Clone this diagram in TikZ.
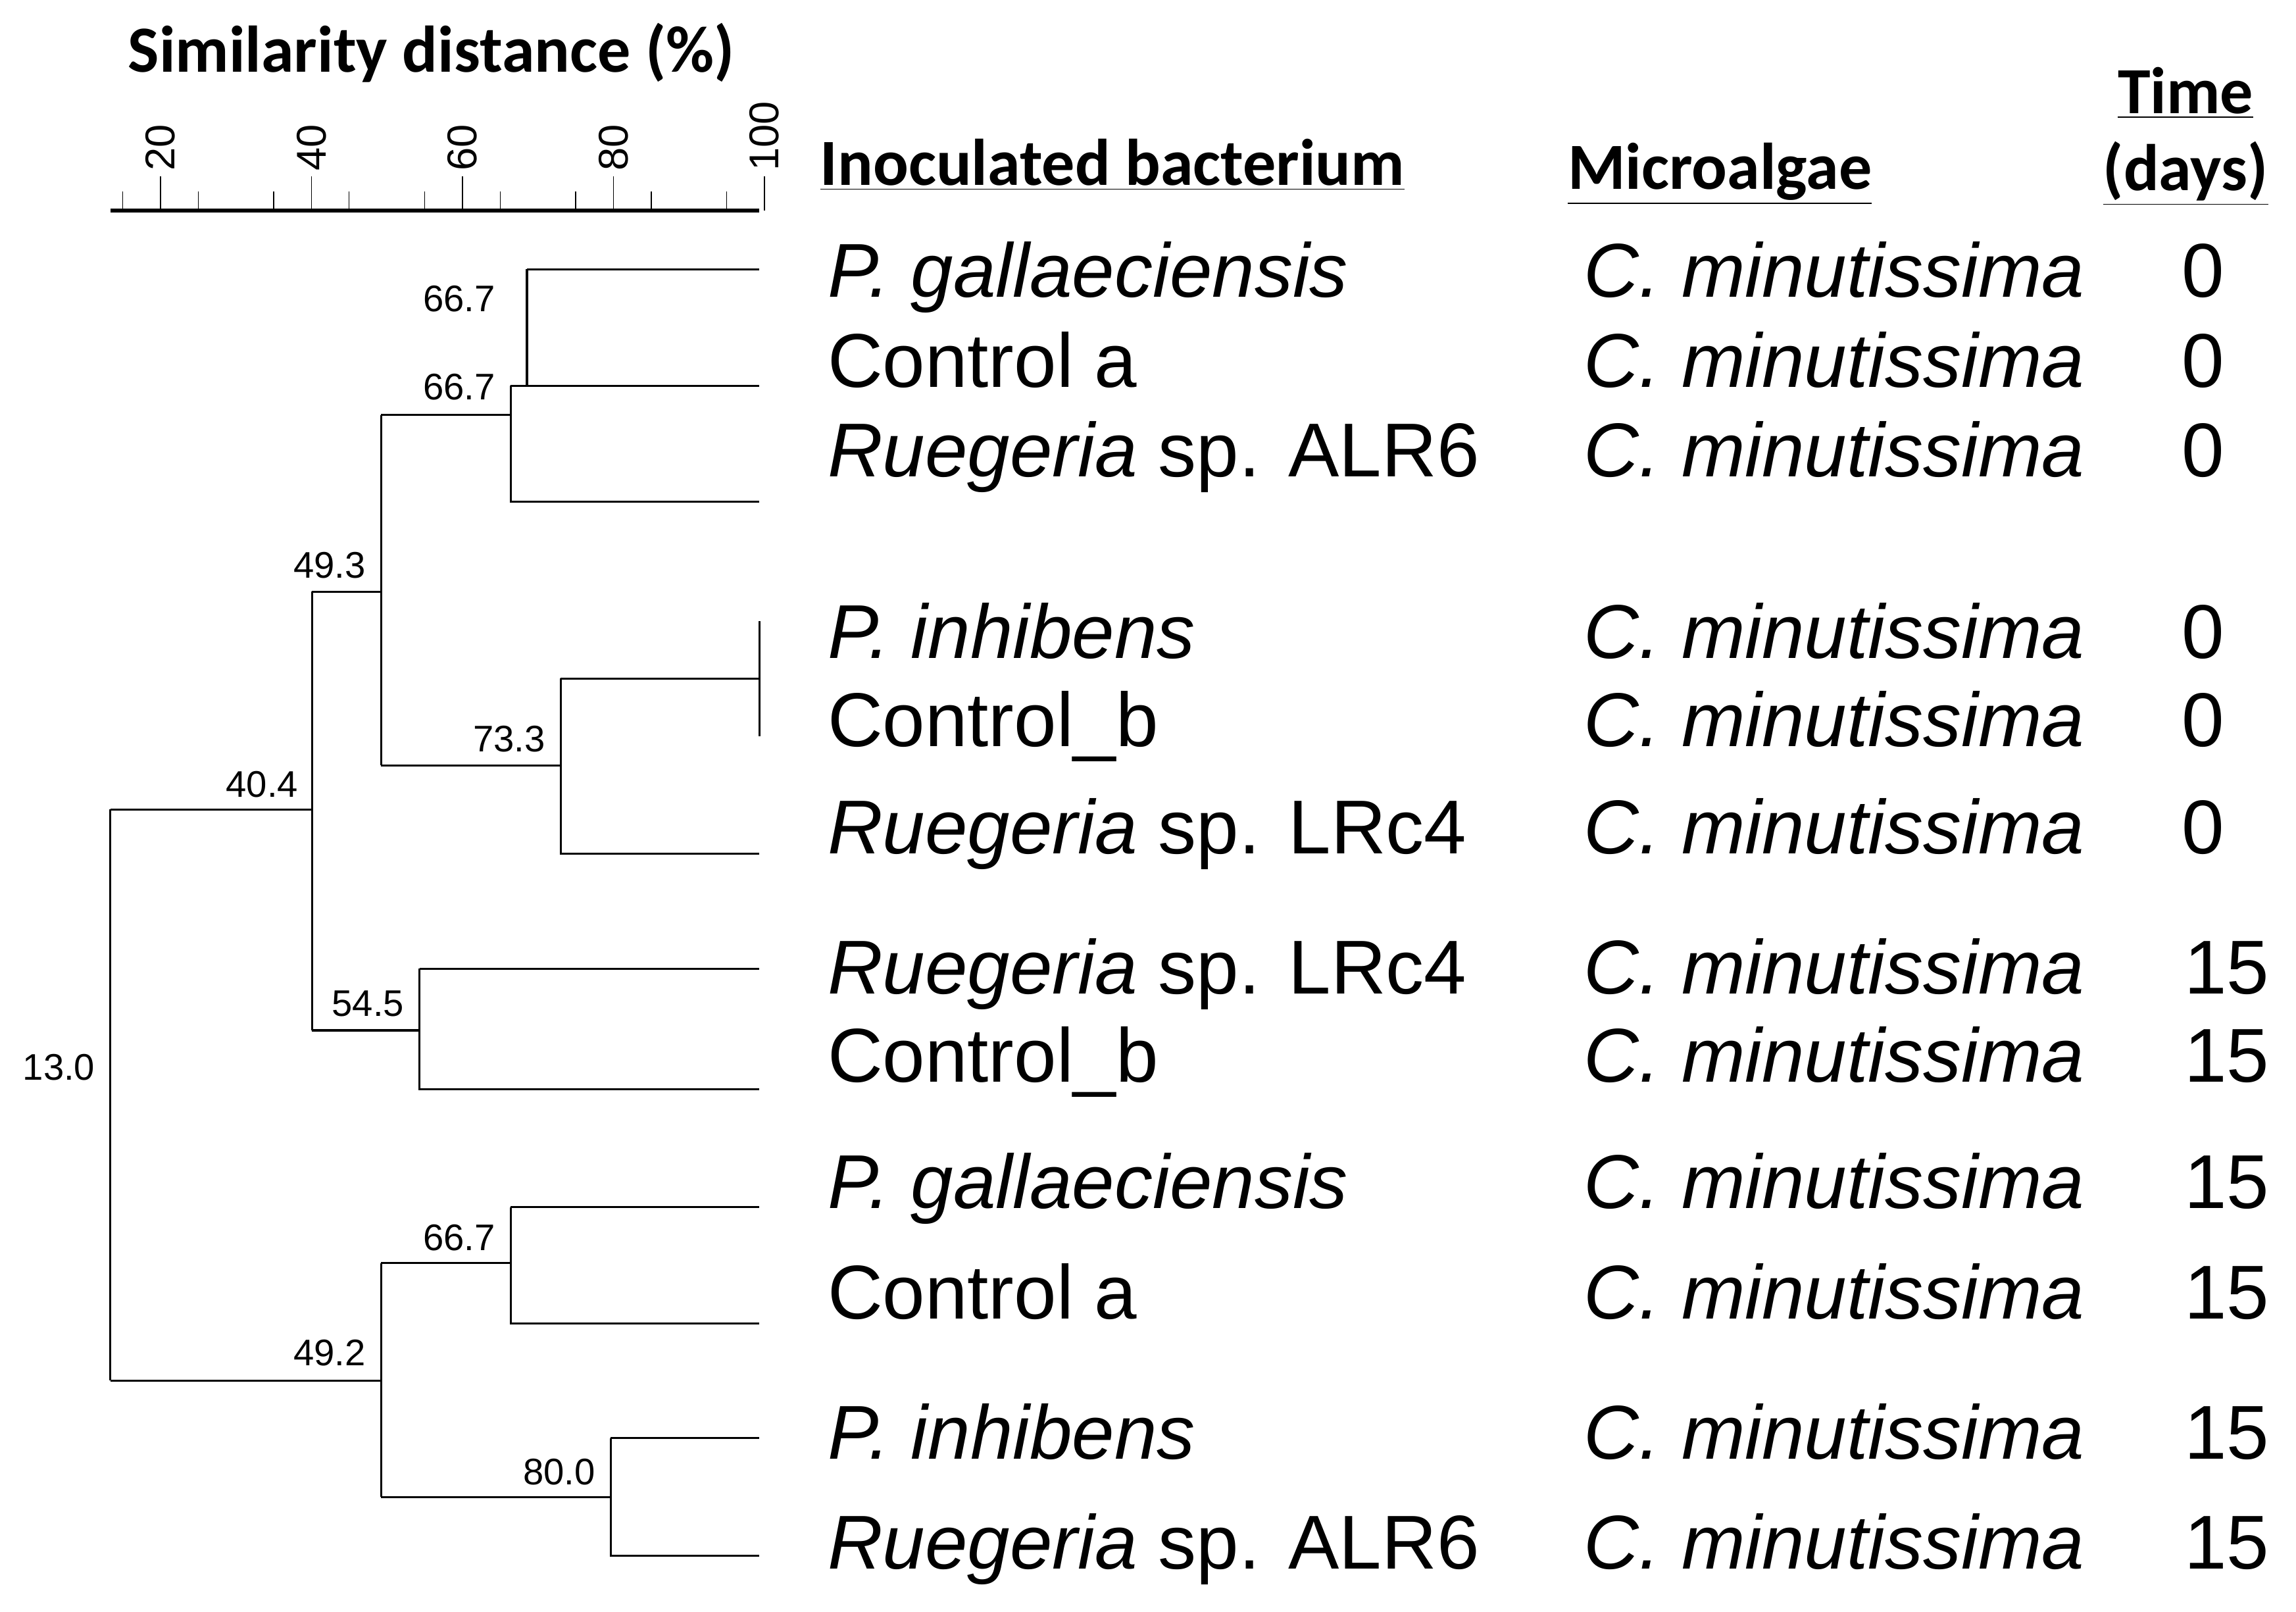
\documentclass[tikz,border=0pt]{standalone}
\usepackage{fontspec}
\setmainfont{Liberation Sans}
\newfontfamily\calfont{Carlito}
\begin{document}
\begin{tikzpicture}[x=0.02237cm,y=-0.02237cm,
  br/.style={line width=0.9pt},
  num/.style={font=\fontsize{16}{16}\selectfont},
  lab/.style={font=\fontsize{33}{34}\selectfont,anchor=base west,inner sep=0},
  hd/.style={font=\calfont\bfseries\fontsize{28.5}{32}\selectfont,inner sep=0}]
\useasboundingbox (0,0) rectangle (1560,1095);
% axis
\draw[line width=1.6pt] (75,143) -- (516,143);
\foreach \v in {15,25,...,95} \draw (6.4+5.13*\v,143) -- (6.4+5.13*\v,130);
\foreach \v in {20,40,60,80,100} {
  \draw (6.4+5.13*\v,143) -- (6.4+5.13*\v,120);
  \node[rotate=90,anchor=west,font=\fontsize{18}{18}\selectfont,inner sep=1pt] (t\v) at (6.4+5.13*\v,118) {\v};}
\node[hd] (title) at (293,36) {Similarity distance (\%)};
\node[hd,anchor=west] (h1) at (557,112) {\underline{Inoculated bacterium}};
\node[hd,anchor=west] (h2) at (1065,118) {\underline{Microalgae}};
\node[hd] (h3) at (1485,63) {\underline{Time}};
\node[hd] (h4) at (1485,118) {\underline{(days)}};
% tree
\draw[br] (358,183)--(516,183) (358,183)--(358,262) (347,262)--(516,262) (347,262)--(347,341)--(516,341) (259,282)--(347,282);
\draw[br] (516,422)--(516,500) (381,461)--(516,461) (381,461)--(381,580)--(516,580) (259,520)--(381,520);
\draw[br] (259,282)--(259,520) (212,402)--(259,402);
\draw[br] (285,658)--(516,658) (285,658)--(285,740)--(516,740) (212,700)--(285,700);
\draw[br] (212,402)--(212,700) (75,550)--(212,550);
\draw[br] (347,820)--(516,820) (347,820)--(347,899)--(516,899) (259,858)--(347,858);
\draw[br] (415,977)--(516,977) (415,977)--(415,1057)--(516,1057) (259,1017)--(415,1017);
\draw[br] (259,858)--(259,1017) (75,938)--(259,938);
\draw[br] (75,550)--(75,938);
\node[num] (n1) at (312,203) {66.7};
\node[num] (n2) at (312,263) {66.7};
\node[num] (n3) at (224,384) {49.3};
\node[num] (n4) at (346,502) {73.3};
\node[num] (n5) at (178,533) {40.4};
\node[num] (n6) at (250,682) {54.5};
\node[num] (n7) at (40,725) {13.0};
\node[num] (n8) at (312,841) {66.7};
\node[num] (n9) at (224,919) {49.2};
\node[num] (n10) at (380,1000) {80.0};
% rows
\foreach \y/\b/\t/\tx [count=\i] in {185/\textit{P. gallaeciensis}/0/1497,246/Control a/0/1497,307/\textit{Ruegeria} sp. ALR6/0/1497,
 430/\textit{P. inhibens}/0/1497,490/Control\_b/0/1497,563/\textit{Ruegeria} sp. LRc4/0/1497,
 658/\textit{Ruegeria} sp. LRc4/15/1513,718/Control\_b/15/1513,804/\textit{P. gallaeciensis}/15/1513,
 879/Control a/15/1513,974/\textit{P. inhibens}/15/1513,1049/\textit{Ruegeria} sp. ALR6/15/1513} {
  \node[lab] (b\i) at (562,\y+17) {\b};
  \node[lab] (m\i) at (1076,\y+17) {\textit{C. minutissima}};
  \node[lab,anchor=base] (d\i) at (\tx,\y+17) {\t};
}
\end{tikzpicture}
\end{document}
